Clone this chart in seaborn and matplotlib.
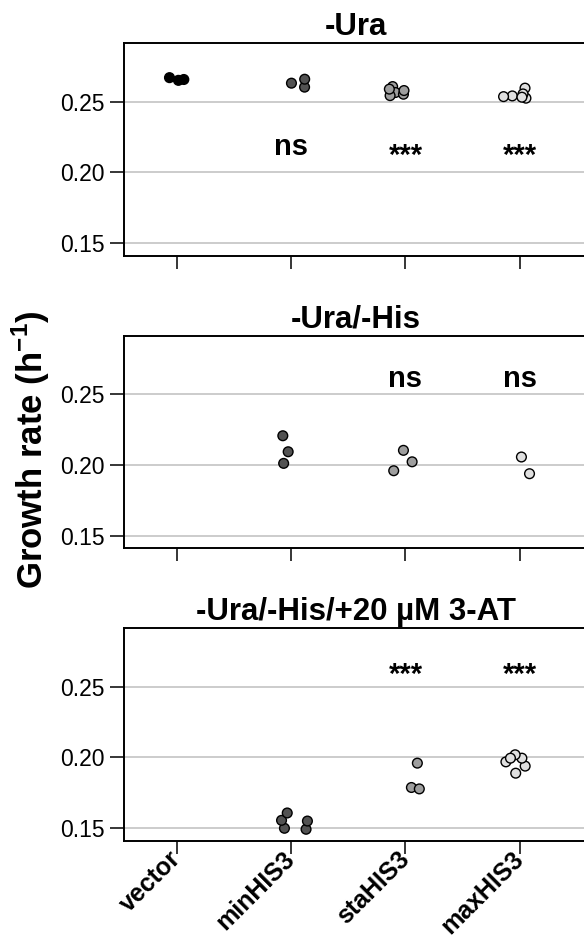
import numpy as np
import pandas as pd
import matplotlib
matplotlib.use("Agg")
import matplotlib.pyplot as plt
import seaborn as sns

# ---------------- data ----------------
strains = ["vector", "minHIS3", "staHIS3", "maxHIS3"]
conditions = ["-Ura", "-Ura/-His", "-Ura/-His/+20 µM 3-AT"]

ura_vector = [0.2650, 0.2656, 0.2669]
ura_min = [0.2630, 0.2602, 0.2658]
ura_sta = [0.2606, 0.2564, 0.2542, 0.2552, 0.2588, 0.2578]
ura_max = [0.2595, 0.2540, 0.2524, 0.2554, 0.2535, 0.2531]

his_vector = []
his_min = [0.2207, 0.2094, 0.2012]
his_sta = [0.2023, 0.2104, 0.1960]
his_max = [0.2057, 0.1939]

at_vector = []
at_min = [0.1500, 0.1556, 0.1608, 0.1493, 0.1551]
at_sta = [0.1788, 0.1778, 0.1960]
at_max = [0.1889, 0.1969, 0.1939, 0.1995, 0.2019, 0.1995]

ura_sig = ["", "ns", "***", "***"]
his_sig = ["", "", "ns", "ns"]
at_sig = ["", "", "***", "***"]

yticks = [0.15, 0.20, 0.25]
ytick_labels = ["0.15", "0.20", "0.25"]
ylabel = r"Growth rate (h$^{\mathbf{-1}}$)"

colors = {"vector": "#000000", "minHIS3": "#525252",
          "staHIS3": "#9e9e9e", "maxHIS3": "#e0e0e0"}

panel_values = [
    [ura_vector, ura_min, ura_sta, ura_max],
    [his_vector, his_min, his_sta, his_max],
    [at_vector, at_min, at_sta, at_max],
]
panel_sigs = [ura_sig, his_sig, at_sig]

# ---------------- style ----------------
plt.rcParams["font.family"] = ["Liberation Sans", "DejaVu Sans"]
plt.rcParams["mathtext.fontset"] = "custom"
plt.rcParams["mathtext.rm"] = "Liberation Sans"
plt.rcParams["mathtext.bf"] = "Liberation Sans:bold"

np.random.seed(3)

fig = plt.figure(figsize=(5.84, 9.42), dpi=100)
bottoms = [0.7286, 0.4179, 0.1075]
# baseline y (data units) for significance labels per panel
sig_base = [{"ns": 0.2124, "***": 0.2060},
            {"ns": 0.2549, "***": 0.2480},
            {"ns": 0.2590, "***": 0.2526}]

for i, (cond, vals, sigs) in enumerate(zip(conditions, panel_values, panel_sigs)):
    rows = []
    for s, v in zip(strains, vals):
        for x in v:
            rows.append({"strain": s, "rate": x})
    df = pd.DataFrame(rows, columns=["strain", "rate"])

    ax = fig.add_axes([0.2128, bottoms[i], 0.794, 0.2255])
    sns.stripplot(data=df, x="strain", y="rate", hue="strain",
                  order=strains, hue_order=strains, palette=colors,
                  jitter=0.15, size=7, linewidth=1, edgecolor="black",
                  legend=False, ax=ax, zorder=3)
    ax.set_xlim(-0.458, 3.595)
    ax.set_ylim(0.1412, 0.2912)
    ax.set_yticks(yticks)
    ax.set_yticklabels(ytick_labels)
    ax.yaxis.grid(True, color="#cccccc", lw=1.4, zorder=0)
    ax.xaxis.grid(False)
    ax.set_axisbelow(True)
    ax.set_xlabel("")
    ax.set_ylabel("")
    for sp in ax.spines.values():
        sp.set_linewidth(1.4)
        sp.set_color("black")
    ax.tick_params(axis="y", length=10, width=1.1, labelsize=16.5, pad=4)
    ax.tick_params(axis="x", length=9.5, width=1.1, pad=1)
    ax.set_title(cond, fontsize=22.5, fontweight="bold", pad=6)

    for j, lab in enumerate(sigs):
        if lab:
            ax.text(j, sig_base[i][lab], lab, ha="center", va="baseline",
                    fontsize=21, fontweight="bold", zorder=4)

    if i < 2:
        ax.set_xticklabels([])
    else:
        ax.set_xticks(range(len(strains)))
        ax.set_xticklabels(strains, rotation=45, ha="right", va="center",
                           rotation_mode="anchor", fontsize=18,
                           fontweight="bold")

fig.text(31 / 584, 1 - 450 / 942, ylabel, rotation=90, fontsize=25,
         fontweight="bold", ha="center", va="center")

fig.savefig("out.png", dpi=100)
